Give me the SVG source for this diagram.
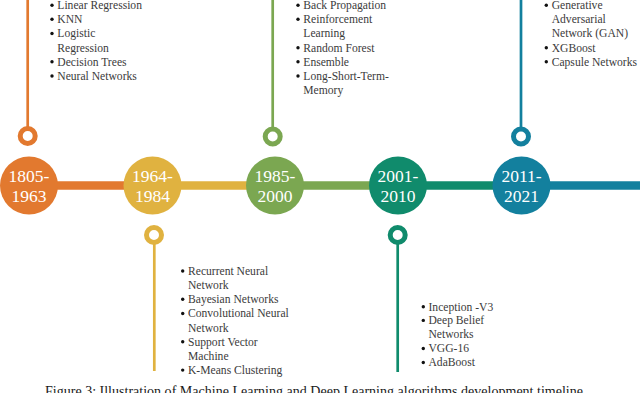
<svg xmlns="http://www.w3.org/2000/svg" width="640" height="393" viewBox="0 0 640 393">
<style>
.yr{font-family:"Liberation Serif","Times New Roman",serif;font-size:17.5px;fill:#ffffff;text-anchor:middle}
.it{font-family:"Liberation Serif","Times New Roman",serif;font-size:11.6px;fill:#3b3b3b}
.cap{font-family:"Liberation Serif","Times New Roman",serif;font-size:14px;fill:#1a1a1a}
.ring{fill:#ffffff;stroke-width:5}
.stem{stroke-width:2.7}
.bar{stroke-width:8.5}
.b{fill:#111111}
</style>
<rect width="640" height="393" fill="#ffffff"/>
<g id="connectors">
<line class="bar" x1="29" y1="185.5" x2="152.5" y2="185.5" stroke="#E2792F"/>
<line class="bar" x1="152.5" y1="185.5" x2="275" y2="185.5" stroke="#E0B240"/>
<line class="bar" x1="275" y1="185.5" x2="398" y2="185.5" stroke="#7BA751"/>
<line class="bar" x1="398" y1="185.5" x2="521.5" y2="185.5" stroke="#108B6C"/>
<line class="bar" x1="521.5" y1="185.5" x2="640" y2="185.5" stroke="#13809E"/>
</g>
<g id="node-1805-1963">
<line class="stem" x1="27.7" y1="0" x2="27.7" y2="129" stroke="#E2792F"/>
<circle class="ring" cx="27.7" cy="136" r="7.5" stroke="#E2792F"/>
<circle cx="29" cy="185.5" r="29" fill="#E2792F"/>
<text class="yr" x="29" y="181.7">1805-</text>
<text class="yr" x="29" y="201.7">1963</text>
<g class="it">
<circle class="b" cx="52" cy="5.3" r="1.7"/><text x="57.3" y="9">Linear Regression</text>
<circle class="b" cx="52" cy="19.3" r="1.7"/><text x="57.3" y="23">KNN</text>
<circle class="b" cx="52" cy="33.5" r="1.7"/><text x="57.3" y="37.3">Logistic</text>
<text x="57.3" y="51.5">Regression</text>
<circle class="b" cx="52" cy="61.8" r="1.7"/><text x="57.3" y="65.6">Decision Trees</text>
<circle class="b" cx="52" cy="76" r="1.7"/><text x="57.3" y="79.8">Neural Networks</text>
</g>
</g>
<g id="node-1964-1984">
<line class="stem" x1="154.3" y1="241" x2="154.3" y2="371" stroke="#E0B240"/>
<circle class="ring" cx="154" cy="235" r="7.5" stroke="#E0B240"/>
<circle cx="152.5" cy="185.5" r="29" fill="#E0B240"/>
<text class="yr" x="152.5" y="181.7">1964-</text>
<text class="yr" x="152.5" y="201.7">1984</text>
<g class="it">
<circle class="b" cx="182.7" cy="271" r="1.7"/><text x="188" y="274.8">Recurrent Neural</text>
<text x="188" y="289">Network</text>
<circle class="b" cx="182.7" cy="299.3" r="1.7"/><text x="188" y="303.1">Bayesian Networks</text>
<circle class="b" cx="182.7" cy="313.5" r="1.7"/><text x="188" y="317.3">Convolutional Neural</text>
<text x="188" y="331.5">Network</text>
<circle class="b" cx="182.7" cy="341.8" r="1.7"/><text x="188" y="345.6">Support Vector</text>
<text x="188" y="359.8">Machine</text>
<circle class="b" cx="182.7" cy="370.1" r="1.7"/><text x="188" y="373.9">K-Means Clustering</text>
</g>
</g>
<g id="node-1985-2000">
<line class="stem" x1="272.7" y1="0" x2="272.7" y2="129" stroke="#7BA751"/>
<circle class="ring" cx="272.7" cy="136.5" r="7.5" stroke="#7BA751"/>
<circle cx="275" cy="185.5" r="29" fill="#7BA751"/>
<text class="yr" x="275" y="181.7">1985-</text>
<text class="yr" x="275" y="201.7">2000</text>
<g class="it">
<circle class="b" cx="298" cy="5.3" r="1.7"/><text x="303.3" y="9">Back Propagation</text>
<circle class="b" cx="298" cy="19.3" r="1.7"/><text x="303.3" y="23">Reinforcement</text>
<text x="303.3" y="37.3">Learning</text>
<circle class="b" cx="298" cy="47.7" r="1.7"/><text x="303.3" y="51.5">Random Forest</text>
<circle class="b" cx="298" cy="61.8" r="1.7"/><text x="303.3" y="65.6">Ensemble</text>
<circle class="b" cx="298" cy="76" r="1.7"/><text x="303.3" y="79.8">Long-Short-Term-</text>
<text x="303.3" y="94">Memory</text>
</g>
</g>
<g id="node-2001-2010">
<line class="stem" x1="397.7" y1="241" x2="397.7" y2="372" stroke="#108B6C"/>
<circle class="ring" cx="397.7" cy="235" r="7.5" stroke="#108B6C"/>
<circle cx="398" cy="185.5" r="29" fill="#108B6C"/>
<text class="yr" x="398" y="181.7">2001-</text>
<text class="yr" x="398" y="201.7">2010</text>
<g class="it">
<circle class="b" cx="423.3" cy="306.8" r="1.7"/><text x="428.5" y="310.6">Inception -V3</text>
<circle class="b" cx="423.3" cy="320.4" r="1.7"/><text x="428.5" y="324.2">Deep Belief</text>
<text x="428.5" y="338.4">Networks</text>
<circle class="b" cx="423.3" cy="348.5" r="1.7"/><text x="428.5" y="352.3">VGG-16</text>
<circle class="b" cx="423.3" cy="362.5" r="1.7"/><text x="428.5" y="366.3">AdaBoost</text>
</g>
</g>
<g id="node-2011-2021">
<line class="stem" x1="521" y1="0" x2="521" y2="129" stroke="#13809E"/>
<circle class="ring" cx="521" cy="136.5" r="7.5" stroke="#13809E"/>
<circle cx="521.5" cy="185.5" r="29" fill="#13809E"/>
<text class="yr" x="521.5" y="181.7">2011-</text>
<text class="yr" x="521.5" y="201.7">2021</text>
<g class="it">
<circle class="b" cx="546.3" cy="5.3" r="1.7"/><text x="551.7" y="9">Generative</text>
<text x="551.7" y="23">Adversarial</text>
<text x="551.7" y="37.3">Network (GAN)</text>
<circle class="b" cx="546.3" cy="47.7" r="1.7"/><text x="551.7" y="51.5">XGBoost</text>
<circle class="b" cx="546.3" cy="61.8" r="1.7"/><text x="551.7" y="65.6">Capsule Networks</text>
</g>
</g>
<text class="cap" x="45" y="395.8" textLength="538" lengthAdjust="spacingAndGlyphs">Figure 3: Illustration of Machine Learning and Deep Learning algorithms development timeline</text>
</svg>
